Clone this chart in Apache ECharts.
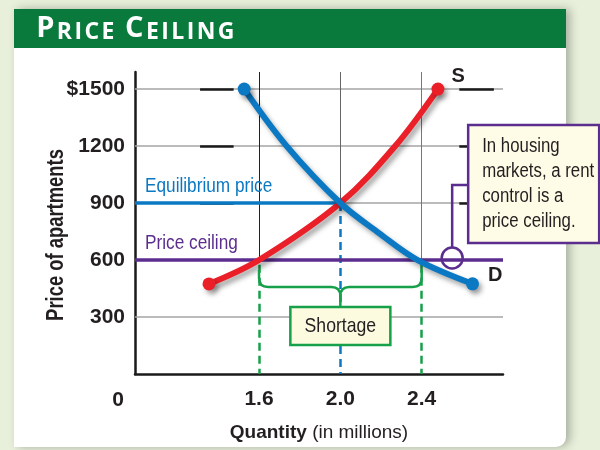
<!DOCTYPE html>
<html>
<head>
<meta charset="utf-8">
<script src="https://cdn.jsdelivr.net/npm/echarts@6/dist/echarts.min.js"></script>
<style>
  html, body { margin: 0; padding: 0; background: #e8f0db; }
  #chart { width: 600px; height: 450px; }
</style>
</head>
<body>
<div id="chart"></div>
<script>
const FONT = '"Liberation Sans", Arial, sans-serif';
const NARROW = 0.84; // squeeze Liberation Sans towards a condensed face
const INK = '#231f20';
const BLUE = '#0a78c2';
const RED = '#ea1f28';
const PURPLE = '#5b2d8e';
const GREEN = '#17a04a';

// data
const priceTicks = [300, 600, 900, 1200, 1500];
const quantityTicks = [1.6, 2.0, 2.4];
const supplyQty = [1.354, 1.6, 2.0, 2.27, 2.48];
const supplyPrice = [474, 600, 900, 1200, 1500];
const demandQty = [1.527, 1.736, 2.0, 2.19, 2.38, 2.65];
const demandPrice = [1500, 1200, 900, 742, 600, 475];
const equilibrium = [2.0, 900];
const ceilingPrice = 600;
const shortage = [1.6, 2.4];
const calloutQty = 2.55;

const xMin = 0.99, xMax = 2.8, yMax = 1590;

const chart = echarts.init(document.getElementById('chart'), null, {renderer: 'canvas'});

function curveData(qs, ps) {
    return qs.map((q, i) => ({
        value: [q, ps[i]],
        symbol: (i === 0 || i === qs.length - 1) ? 'circle' : 'none'
    }));
}

const shadow = {shadowColor: 'rgba(0,0,0,0.35)', shadowBlur: 5, shadowOffsetX: 3, shadowOffsetY: 4};

const supplyData = curveData(supplyQty, supplyPrice);
supplyData[supplyData.length - 1].label = {
    show: true, formatter: 'S', position: [20, -16],
    fontFamily: FONT, fontWeight: 'bold', fontSize: 20, color: INK
};
const demandData = curveData(demandQty, demandPrice);
demandData[demandData.length - 1].label = {
    show: true, formatter: 'D', position: [22, -12],
    fontFamily: FONT, fontWeight: 'bold', fontSize: 20, color: INK
};

// short black dashes sitting on some gridlines
const dashRuns = [[1.31, 1.475], [2.585, 2.755]];
const dashLevels = [1500, 1200, 900];

function vline(q, from, to, style) {
    return [{coord: [q, from], lineStyle: style}, {coord: [q, to]}];
}

function narrowText(x, y, text, extra) {
    return {
        type: 'text', x: x, y: y, scaleX: NARROW,
        style: Object.assign({text: text, x: 0, y: 0, fontFamily: FONT, fontSize: 20, fill: INK}, extra)
    };
}

function renderNotes(params, api) {
    const x1 = api.coord([shortage[0], 0])[0];
    const x2 = api.coord([shortage[1], 0])[0];
    const xm = api.coord([equilibrium[0], 0])[0];
    const yBar = api.coord([0, 458])[1];
    const yTip = yBar - 17, yCusp = yBar + 9, yBox = yBar + 20;
    const r = 9;
    const brace = [
        'M', x1, yTip, 'L', x1, yBar - r, 'Q', x1, yBar, x1 + r, yBar,
        'L', xm - r, yBar, 'Q', xm, yBar, xm, yCusp,
        'Q', xm, yBar, xm + r, yBar, 'L', x2 - r, yBar,
        'Q', x2, yBar, x2, yBar - r, 'L', x2, yTip,
        'M', xm, yCusp, 'L', xm, yBox
    ].join(' ');

    const c = api.coord([calloutQty, ceilingPrice]);
    const cy = c[1] - 2;
    const boxL = c[0] + 16, boxT = cy - 133;
    const origin = api.coord([xMin, 0]);
    const eq = api.coord([xMin, equilibrium[1]]);
    const ceil = api.coord([xMin, ceilingPrice]);

    return {
        type: 'group',
        children: [
            {type: 'path', shape: {pathData: brace}, style: {stroke: GREEN, lineWidth: 2.5, fill: null}},
            {type: 'rect', shape: {x: xm - 50, y: yBox, width: 100, height: 38},
             style: {fill: '#fdfbdf', stroke: GREEN, lineWidth: 2.5}},
            narrowText(xm, yBox + 19, 'Shortage', {fontSize: 21, align: 'center', verticalAlign: 'middle'}),
            {type: 'circle', shape: {cx: c[0], cy: cy, r: 10.5}, style: {fill: null, stroke: PURPLE, lineWidth: 2.5}},
            {type: 'polyline', shape: {points: [[c[0], cy - 10.5], [c[0], cy - 73], [boxL, cy - 73]]},
             style: {stroke: PURPLE, lineWidth: 2.5, fill: null}},
            {type: 'rect', shape: {x: boxL, y: boxT, width: 131, height: 118},
             style: {fill: '#fefbe6', stroke: PURPLE, lineWidth: 2.5}},
            narrowText(boxL + 14, boxT + 9, 'In housing\nmarkets, a rent\ncontrol is a\nprice ceiling.', {lineHeight: 25}),
            narrowText(eq[0] + 10, eq[1] - 6, 'Equilibrium price', {fontSize: 20.5, verticalAlign: 'bottom', fill: BLUE}),
            narrowText(ceil[0] + 10, ceil[1] - 6, 'Price ceiling', {fontSize: 20.5, verticalAlign: 'bottom', fill: PURPLE}),
            {type: 'text', style: {text: '0', x: origin[0] - 17, y: origin[1] + 26, align: 'center', verticalAlign: 'middle',
             fontFamily: FONT, fontSize: 21, fontWeight: 'bold', fill: INK}}
        ]
    };
}

const title = 'PRICE CEILING'.split('').map((ch, i, a) =>
    `{${(i === 0 || a[i - 1] === ' ') ? 'b' : 's'}|${ch}}`).join('');

chart.setOption({
    animation: false,
    backgroundColor: '#e8f0db',
    grid: {left: 135, right: 97, top: 72, bottom: 76},
    xAxis: {
        type: 'value', min: xMin, max: xMax,
        axisLine: {onZero: false, lineStyle: {color: '#1a1a1a', width: 2.5}},
        axisTick: {show: false},
        splitLine: {show: false},
        axisLabel: {
            customValues: quantityTicks, formatter: (v) => v.toFixed(1),
            fontFamily: FONT, fontSize: 21, fontWeight: 'bold', color: INK, margin: 15
        },
        name: '{b|Quantity} (in millions)',
        nameLocation: 'middle', nameGap: 49,
        nameTextStyle: {
            fontFamily: FONT, fontSize: 19, color: INK,
            rich: {b: {fontFamily: FONT, fontSize: 19, fontWeight: 'bold', color: INK}}
        }
    },
    yAxis: {
        type: 'value', min: 0, max: yMax,
        axisLine: {show: true, lineStyle: {color: '#1a1a1a', width: 2.5}},
        axisTick: {show: false},
        splitLine: {show: false},
        axisLabel: {
            customValues: priceTicks, formatter: (v) => v === 1500 ? '$' + v : String(v),
            fontFamily: FONT, fontSize: 21, fontWeight: 'bold', color: INK, margin: 10
        }
    },
    graphic: [
        {type: 'rect', z: -10, shape: {x: 14, y: 9, width: 552, height: 438, r: [0, 0, 10, 0]},
         style: {fill: '#fff', shadowColor: 'rgba(0,0,0,0.28)', shadowBlur: 10, shadowOffsetX: 4, shadowOffsetY: 0}},
        {type: 'rect', z: -9, shape: {x: 14, y: 9, width: 552, height: 39}, style: {fill: '#0a7a3c'}},
        {type: 'text', z: -8, x: 35, y: 29, style: {
            text: title, verticalAlign: 'middle',
            rich: {
                b: {fontFamily: '"Open Sans", sans-serif', fontWeight: 'bold', fontSize: 29, fill: '#fff', padding: [0, 1.2], verticalAlign: 'bottom'},
                s: {fontFamily: '"Open Sans", sans-serif', fontWeight: 'bold', fontSize: 23, fill: '#fff', padding: [0, 1.2], verticalAlign: 'bottom'}
            }
        }},
        {type: 'text', x: 57, y: 235, rotation: Math.PI / 2, scaleX: 0.8, style: {
            text: 'Price of apartments', align: 'center', verticalAlign: 'middle',
            fontFamily: FONT, fontWeight: 'bold', fontSize: 23, fill: INK
        }}
    ],
    series: [
        {
            type: 'line', data: [], silent: true,
            markLine: {
                z: 1, symbol: 'none', silent: true, label: {show: false},
                data: [
                    ...priceTicks.map((v) => ({yAxis: v, lineStyle: {color: '#a5a5a5', width: 1.5, type: 'solid'}})),
                    ...dashLevels.flatMap((lv) => dashRuns.map(([a, b]) => [
                        {coord: [a, lv], lineStyle: {color: '#1a1a1a', width: 2.5, type: 'solid'}}, {coord: [b, lv]}
                    ])),
                    vline(quantityTicks[0], yMax, ceilingPrice, {color: '#222', width: 1, type: 'solid'}),
                    vline(quantityTicks[1], yMax, equilibrium[1], {color: '#666', width: 1, type: 'solid'}),
                    vline(quantityTicks[2], yMax, ceilingPrice, {color: '#777', width: 1, type: 'solid'})
                ]
            }
        },
        {
            type: 'line', data: [], silent: true,
            markLine: {
                z: 2, symbol: 'none', silent: true, label: {show: false},
                data: [
                    vline(equilibrium[0], equilibrium[1], 0, {color: BLUE, width: 2.5, type: [8, 5]}),
                    vline(shortage[0], ceilingPrice - 25, 0, {color: GREEN, width: 2.5, type: [8, 5]}),
                    vline(shortage[1], ceilingPrice - 25, 0, {color: GREEN, width: 2.5, type: [8, 5]}),
                    [{coord: [xMin, equilibrium[1]], lineStyle: {color: BLUE, width: 3.5, type: 'solid'}},
                     {coord: equilibrium}],
                    [{coord: [xMin, ceilingPrice], lineStyle: {color: PURPLE, width: 3.5, type: 'solid'}},
                     {coord: [xMax, ceilingPrice]}]
                ]
            }
        },
        {
            name: 'Supply', type: 'line', z: 4, data: supplyData,
            smooth: 0.35, symbolSize: 13,
            lineStyle: {color: RED, width: 6, ...shadow},
            itemStyle: {color: RED, ...shadow}
        },
        {
            name: 'Demand', type: 'line', z: 4, data: demandData,
            smooth: 0.35, symbolSize: 13,
            lineStyle: {color: BLUE, width: 6, ...shadow},
            itemStyle: {color: BLUE, ...shadow}
        },
        {
            type: 'custom', z: 6, silent: true, clip: false,
            data: [0], renderItem: renderNotes
        }
    ]
});
</script>
</body>
</html>
